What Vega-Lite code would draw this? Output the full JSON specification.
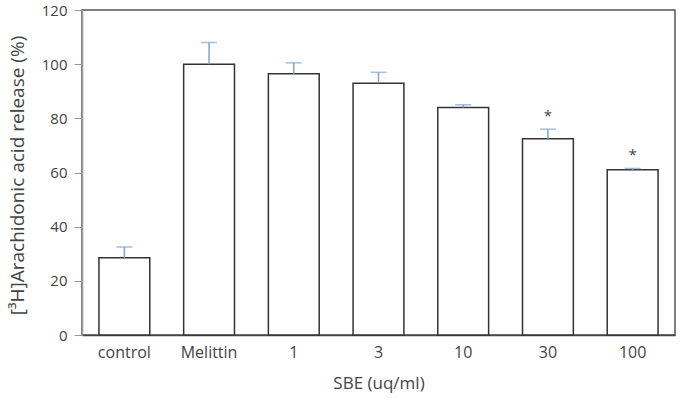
{
  "$schema": "https://vega.github.io/schema/vega-lite/v6.json",
  "width": 593,
  "height": 325,
  "autosize": {"type": "none"},
  "padding": {"left": 82, "top": 10, "right": 5, "bottom": 63},
  "background": "white",
  "config": {
    "view": {"stroke": "#555555", "strokeWidth": 1.5},
    "font": "Open Sans"
  },
  "data": {
    "values": [
      {"group": "control", "value": 28.5, "upper": 32.5, "mark": ""},
      {"group": "Melittin", "value": 100, "upper": 108, "mark": ""},
      {"group": "1", "value": 96.5, "upper": 100.5, "mark": ""},
      {"group": "3", "value": 93, "upper": 97, "mark": ""},
      {"group": "10", "value": 84, "upper": 85, "mark": ""},
      {"group": "30", "value": 72.5, "upper": 76, "mark": "*"},
      {"group": "100", "value": 61, "upper": 61.5, "mark": "*"}
    ]
  },
  "encoding": {
    "x": {
      "field": "group",
      "type": "nominal",
      "sort": null,
      "scale": {"paddingInner": 0.4, "paddingOuter": 0.2},
      "axis": {
        "title": "SBE (uq/ml)",
        "labelAngle": 0,
        "ticks": false,
        "domain": true,
        "domainColor": "#444444",
        "domainWidth": 1.5,
        "labelPadding": 9,
        "labelFontSize": 16,
        "labelColor": "#444444",
        "titleFontSize": 17,
        "titleFontWeight": "normal",
        "titleColor": "#444444",
        "titleY": 48,
        "titleBaseline": "middle"
      }
    }
  },
  "layer": [
    {
      "mark": {"type": "bar", "fill": "white", "stroke": "#333333", "strokeWidth": 1.5},
      "encoding": {
        "y": {
          "field": "value",
          "type": "quantitative",
          "scale": {"domain": [0, 120], "nice": false},
          "axis": {
            "title": "[³H]Arachidonic acid release (%)",
            "values": [0, 20, 40, 60, 80, 100, 120],
            "grid": false,
            "tickSize": 8,
            "tickColor": "#999999",
            "domainColor": "#999999",
            "domainWidth": 1.5,
            "labelPadding": 7,
            "labelFontSize": 15,
            "labelColor": "#444444",
            "titleFontSize": 19,
            "titleFontWeight": "normal",
            "titleColor": "#444444",
            "titleX": -65,
            "titleY": 165,
            "titleAlign": "center",
            "titleBaseline": "middle"
          }
        }
      }
    },
    {
      "mark": {"type": "rule", "color": "#7fa3d6", "strokeWidth": 1.5},
      "encoding": {
        "y": {"field": "value", "type": "quantitative"},
        "y2": {"field": "upper"}
      }
    },
    {
      "mark": {"type": "tick", "color": "#7fa3d6", "size": 16, "thickness": 1.5},
      "encoding": {
        "y": {"field": "upper", "type": "quantitative"}
      }
    },
    {
      "mark": {"type": "text", "dy": -13, "fontSize": 15, "color": "#444444"},
      "encoding": {
        "y": {"field": "upper", "type": "quantitative"},
        "text": {"field": "mark"}
      }
    }
  ]
}
